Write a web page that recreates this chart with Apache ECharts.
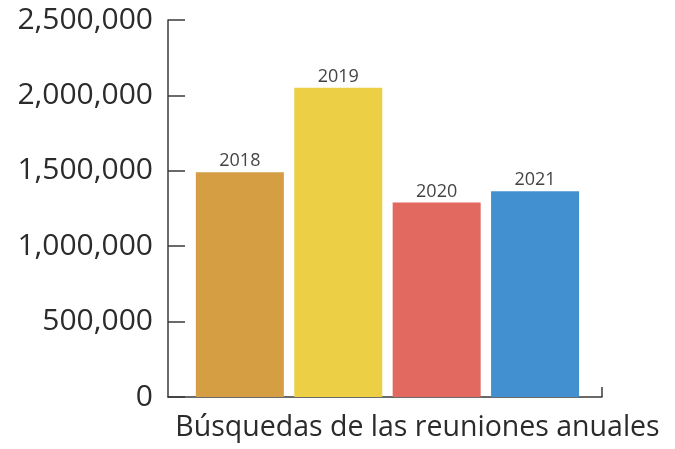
<!DOCTYPE html>
<html>
<head>
<meta charset="utf-8">
<script src="https://cdn.jsdelivr.net/npm/echarts@6/dist/echarts.min.js"></script>
<style>
  html, body { margin: 0; padding: 0; background: #fff; }
  #chart { width: 675px; height: 449px; }
</style>
</head>
<body>
<div id="chart"></div>
<script>
// datos
var years = ['2018', '2019', '2020', '2021'];
var searches = [1490000, 2050000, 1290000, 1365000];
var barColors = ['#D59E42', '#EDCF45', '#E1695F', '#4290CF'];
var yTicks = [0, 500000, 1000000, 1500000, 2000000, 2500000];
var axisTitle = 'Búsquedas de las reuniones anuales';

var font = '"Open Sans", sans-serif';
var chart = echarts.init(document.getElementById('chart'));

var barData = [];
for (var i = 0; i < years.length; i++) {
  barData.push({
    value: [i, searches[i]],
    name: years[i],
    itemStyle: { color: barColors[i] }
  });
}

var option = {
  animation: false,
  grid: { left: 168, right: 73, top: 20, bottom: 52, containLabel: false, outerBoundsMode: 'none' },
  xAxis: {
    type: 'value',
    min: -0.73,
    max: 3.68,
    splitLine: { show: false },
    axisLabel: { show: false },
    axisLine: { show: true, onZero: false, lineStyle: { color: '#3a3a3a', width: 1.5 } },
    axisTick: { show: true, inside: true, length: 10, customValues: [3.68], lineStyle: { color: '#3a3a3a', width: 1.5 } },
    name: axisTitle,
    nameLocation: 'middle',
    nameGap: 16,
    nameTextStyle: { fontFamily: font, fontSize: 28.5, color: '#2b2b2b', padding: [0, 0, 0, 65] }
  },
  yAxis: {
    type: 'value',
    min: 0,
    max: yTicks[yTicks.length - 1],
    interval: 500000,
    splitLine: { show: false },
    axisLine: { show: true, onZero: false, lineStyle: { color: '#3a3a3a', width: 1.5 } },
    axisTick: { show: true, inside: true, length: 17, lineStyle: { color: '#3a3a3a', width: 1.5 } },
    axisLabel: {
      margin: 15,
      fontFamily: font,
      fontSize: 30,
      color: '#2b2b2b',
      formatter: function (v) { return v.toLocaleString('en-US'); }
    }
  },
  series: [{
    type: 'bar',
    barWidth: 88,
    data: barData,
    label: {
      show: true,
      position: 'top',
      distance: 2,
      fontFamily: font,
      fontSize: 18,
      color: '#444',
      formatter: function (p) { return p.name; }
    }
  }]
};
chart.setOption(option);
</script>
</body>
</html>
